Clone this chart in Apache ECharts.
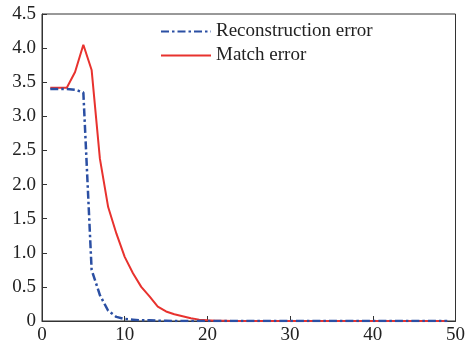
<!DOCTYPE html>
<html>
<head>
<meta charset="utf-8">
<script src="https://cdn.jsdelivr.net/npm/echarts@6/dist/echarts.min.js"></script>
<style>
  html, body { margin: 0; padding: 0; background: #fff; }
  #chart { width: 468px; height: 352px; }
</style>
</head>
<body>
<div id="chart"></div>
<script>
// iterations 1..49
var xs = []
for (var i = 1; i <= 49; i++) xs.push(i)

var reconError = [3.40, 3.40, 3.40, 3.39, 3.35, 0.75, 0.38, 0.15, 0.06, 0.03,
  0.02, 0.01, 0.01, 0.005, 0.005, 0, 0, 0, 0, 0,
  0, 0, 0, 0, 0, 0, 0, 0, 0, 0,
  0, 0, 0, 0, 0, 0, 0, 0, 0, 0,
  0, 0, 0, 0, 0, 0, 0, 0, 0]
var matchError = [3.42, 3.42, 3.42, 3.65, 4.05, 3.68, 2.38, 1.67, 1.28, 0.94,
  0.70, 0.50, 0.36, 0.21, 0.14, 0.10, 0.07, 0.04, 0.02, 0.01,
  0.005, 0.005, 0, 0, 0, 0, 0, 0, 0, 0,
  0, 0, 0, 0, 0, 0, 0, 0, 0, 0,
  0, 0, 0, 0, 0, 0, 0, 0, 0]
var seriesNames = ['Reconstruction error', 'Match error']

var font = '"Liberation Serif", "Times New Roman", serif'
var chart = echarts.init(document.getElementById('chart'))

function pairs(ys) {
  return ys.map(function (y, i) { return [xs[i], y] })
}

chart.setOption({
  animation: false,
  grid: {
    left: 42,
    right: 9,
    top: 14,
    bottom: 31,
    show: true,
    borderColor: '#333',
    borderWidth: 1
  },
  legend: {
    orient: 'vertical',
    left: 155,
    top: 17,
    itemWidth: 50,
    itemHeight: 14,
    itemGap: 5,
    itemStyle: { opacity: 0 },
    textStyle: { fontFamily: font, fontSize: 19, color: '#222' },
    data: seriesNames
  },
  xAxis: {
    type: 'value',
    min: 0,
    max: 50,
    interval: 10,
    splitLine: { show: false },
    axisLine: { lineStyle: { color: '#333' } },
    axisTick: { inside: true, length: 5, lineStyle: { color: '#333' } },
    axisLabel: { fontFamily: font, fontSize: 19, color: '#222', margin: 5 }
  },
  yAxis: {
    type: 'value',
    min: 0,
    max: 4.5,
    interval: 0.5,
    splitLine: { show: false },
    axisLine: { show: true, lineStyle: { color: '#333' } },
    axisTick: { show: true, inside: true, length: 5, lineStyle: { color: '#333' } },
    axisLabel: {
      fontFamily: font, fontSize: 19, color: '#222', margin: 6,
      formatter: function (v) { return v === 0 ? '0' : v.toFixed(1) }
    }
  },
  series: [{
    name: seriesNames[0],
    type: 'line',
    symbol: 'none',
    data: pairs(reconError),
    z: 3,
    itemStyle: { color: '#2b4fa3' },
    lineStyle: { color: '#2b4fa3', width: 2.5, type: [8, 3, 2.5, 3] }
  }, {
    name: seriesNames[1],
    type: 'line',
    symbol: 'none',
    data: pairs(matchError),
    z: 2,
    itemStyle: { color: '#e8322e' },
    lineStyle: { color: '#e8322e', width: 2 }
  }]
})
</script>
</body>
</html>
